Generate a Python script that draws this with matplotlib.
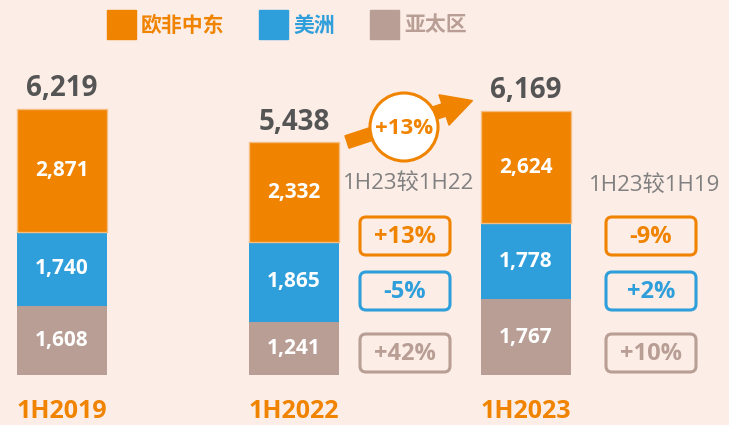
import matplotlib
matplotlib.use("Agg")
import matplotlib.pyplot as plt
from matplotlib.patches import FancyBboxPatch, Rectangle, Circle, FancyArrow

# ---- data ----
periods = ["1H2019", "1H2022", "1H2023"]
regions = ["欧非中东", "美洲", "亚太区"]
emea = [2871, 2332, 2624]
americas = [1740, 1865, 1778]
apac = [1608, 1241, 1767]
totals = [6219, 5438, 6169]
growth_label = "+13%"
cmp_titles = ["1H23较1H22", "1H23较1H19"]
cmp_vs22 = ["+13%", "-5%", "+42%"]
cmp_vs19 = ["-9%", "+2%", "+10%"]

# ---- style ----
BG = "#FCEDE6"
ORANGE = "#F08300"
BLUE = "#2E9FDB"
TAUPE = "#B89E94"
DARK = "#555555"
GRAY = "#808080"
colors = [TAUPE, BLUE, ORANGE]
NUM = ["Open Sans", "DejaVu Sans"]
CJK = ["Noto Sans CJK SC", "DejaVu Sans"]
MIX = ["Open Sans", "Noto Sans CJK SC", "DejaVu Sans"]

W, H = 729, 425
fig = plt.figure(figsize=(W / 100, H / 100), dpi=100, facecolor=BG)
ax = fig.add_axes([0, 0, 1, 1])
ax.set_facecolor(BG)
ax.axis("off")

# pixel mapping: centers at 62, 294, 526 px; bottom at y=375 px; 0.0428 px/unit
ppu = 0.0428
ax.set_xlim(-62 / 232, (W - 62) / 232)
ax.set_ylim(-(H - 375) / ppu, 375 / ppu)

x = list(range(len(periods)))
bw = 90 / 232
stack = [apac, americas, emea]
bottom = [0] * len(x)
for vals, c in zip(stack, colors):
    ec = "#F5BE80" if c == ORANGE else "none"
    ax.bar(x, vals, bw, bottom=bottom, color=c, edgecolor=ec, linewidth=1.0, zorder=2)
    for i, v in enumerate(vals):
        ax.text(x[i], bottom[i] + v / 2, f"{v:,}", ha="center", va="center",
                color="white", fontsize=15, fontweight="bold", family=NUM, zorder=3)
    bottom = [b + v for b, v in zip(bottom, vals)]

for i, t in enumerate(totals):
    ax.annotate(f"{t:,}", (x[i], t), xytext=(0, 4), textcoords="offset points",
                ha="center", va="bottom", fontsize=20, fontweight="bold",
                color=DARK, family=NUM)

# overlay in pixel coordinates
ov = fig.add_axes([0, 0, 1, 1])
ov.set_xlim(0, W)
ov.set_ylim(H, 0)
ov.axis("off")
ov.patch.set_alpha(0)

# legend
leg_sq = [107, 259, 370]
for sx, name, c in zip(leg_sq, regions, [ORANGE, BLUE, TAUPE]):
    ov.add_patch(Rectangle((sx, 10), 29, 29, color=c))
    ov.text(sx + 34, 25, name, ha="left", va="center", fontsize=15,
            fontweight="bold", color=c, family=CJK)

# period labels
for i, p in enumerate(periods):
    ov.text(62 + 232 * i, 418, p, ha="center", va="baseline", fontsize=18,
            fontweight="bold", color=ORANGE, family=NUM)

# growth arrow + circle
ov.add_patch(FancyArrow(347, 142, 97, -32, width=13, head_width=32,
                        head_length=30, length_includes_head=False,
                        color=ORANGE, zorder=4))
ov.add_patch(Circle((404, 127), 34, facecolor="white", edgecolor=ORANGE,
                    linewidth=2.2, zorder=5))
ov.text(404, 128, growth_label, ha="center", va="center", fontsize=16,
        fontweight="bold", color=ORANGE, family=NUM, zorder=6)

# comparison titles
ov.text(409, 183, cmp_titles[0], ha="center", va="center", fontsize=16,
        color=GRAY, family=MIX)
ov.text(655, 185, cmp_titles[1], ha="center", va="center", fontsize=16,
        color=GRAY, family=MIX)

# comparison boxes
box_cols = [ORANGE, BLUE, TAUPE]
box_y = [236, 291, 353]
for cx, labels in zip([405, 651], [cmp_vs22, cmp_vs19]):
    for cy, lab, c in zip(box_y, labels, box_cols):
        ov.add_patch(FancyBboxPatch((cx - 42, cy - 16), 84, 32,
                                    boxstyle="round,pad=3,rounding_size=6",
                                    facecolor="none", edgecolor=c, linewidth=2.2))
        ov.text(cx, cy + 1, lab, ha="center", va="center", fontsize=17,
                fontweight="bold", color=c, family=NUM)

fig.savefig("out.png", dpi=100, facecolor=BG)
